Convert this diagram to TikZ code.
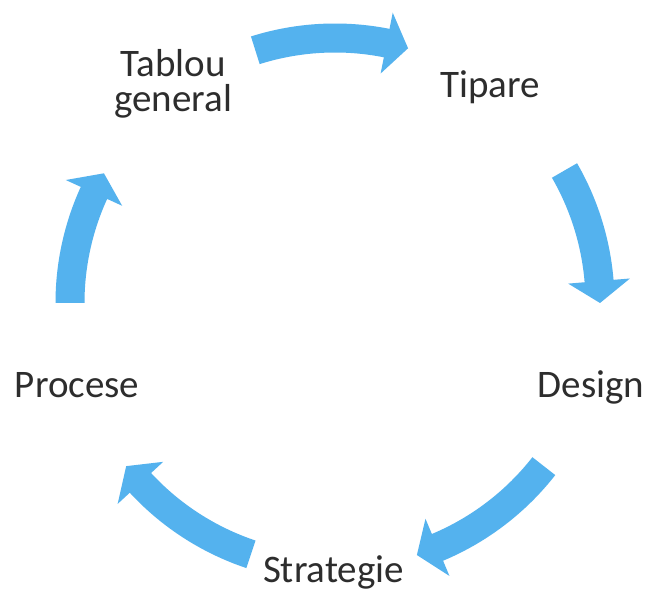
\documentclass[tikz,border=0pt]{standalone}
\usepackage{fontspec}
\setmainfont{Carlito}
\definecolor{arrowblue}{RGB}{84,178,238}
\definecolor{labelgray}{RGB}{45,45,45}
\newcommand{\cyclearrow}[3]{% tail angle, tip angle, head base angle
  \fill[arrowblue] (#1:279.5pt) arc[start angle=#1, end angle=#3, radius=279.5pt]
    -- (#3:296pt) -- (#2:265pt) -- (#3:234pt) -- (#3:250.5pt)
    arc[start angle=#3, end angle=#1, radius=250.5pt] -- cycle;}
\begin{document}
\begin{tikzpicture}[x=1pt,y=1pt,
  lbl/.style={anchor=base, inner sep=0pt, text=labelgray, align=center,
    font=\fontsize{39}{35}\selectfont}]
\useasboundingbox (0,0) rectangle (648,589);
\fill[white] (0,0) rectangle (648,589);
\begin{scope}[shift={(335,286)}]
  \cyclearrow{107.5}{74}{78.75}
  \cyclearrow{30}{0}{4.75}
  \cyclearrow{-38}{-72}{-67.25}
  \cyclearrow{-108.5}{-142}{-137.25}
  \cyclearrow{180}{150.7}{155.45}
\end{scope}
\node[lbl] (tablou) at (173,477) {Tablou\\general};
\node[lbl] (tipare) at (490,491) {Tipare};
\node[lbl] (design) at (591,191) {Design};
\node[lbl] (strategie) at (333.5,6) {Strategie};
\node[lbl] (procese) at (77,191) {Procese};
\end{tikzpicture}
\end{document}
